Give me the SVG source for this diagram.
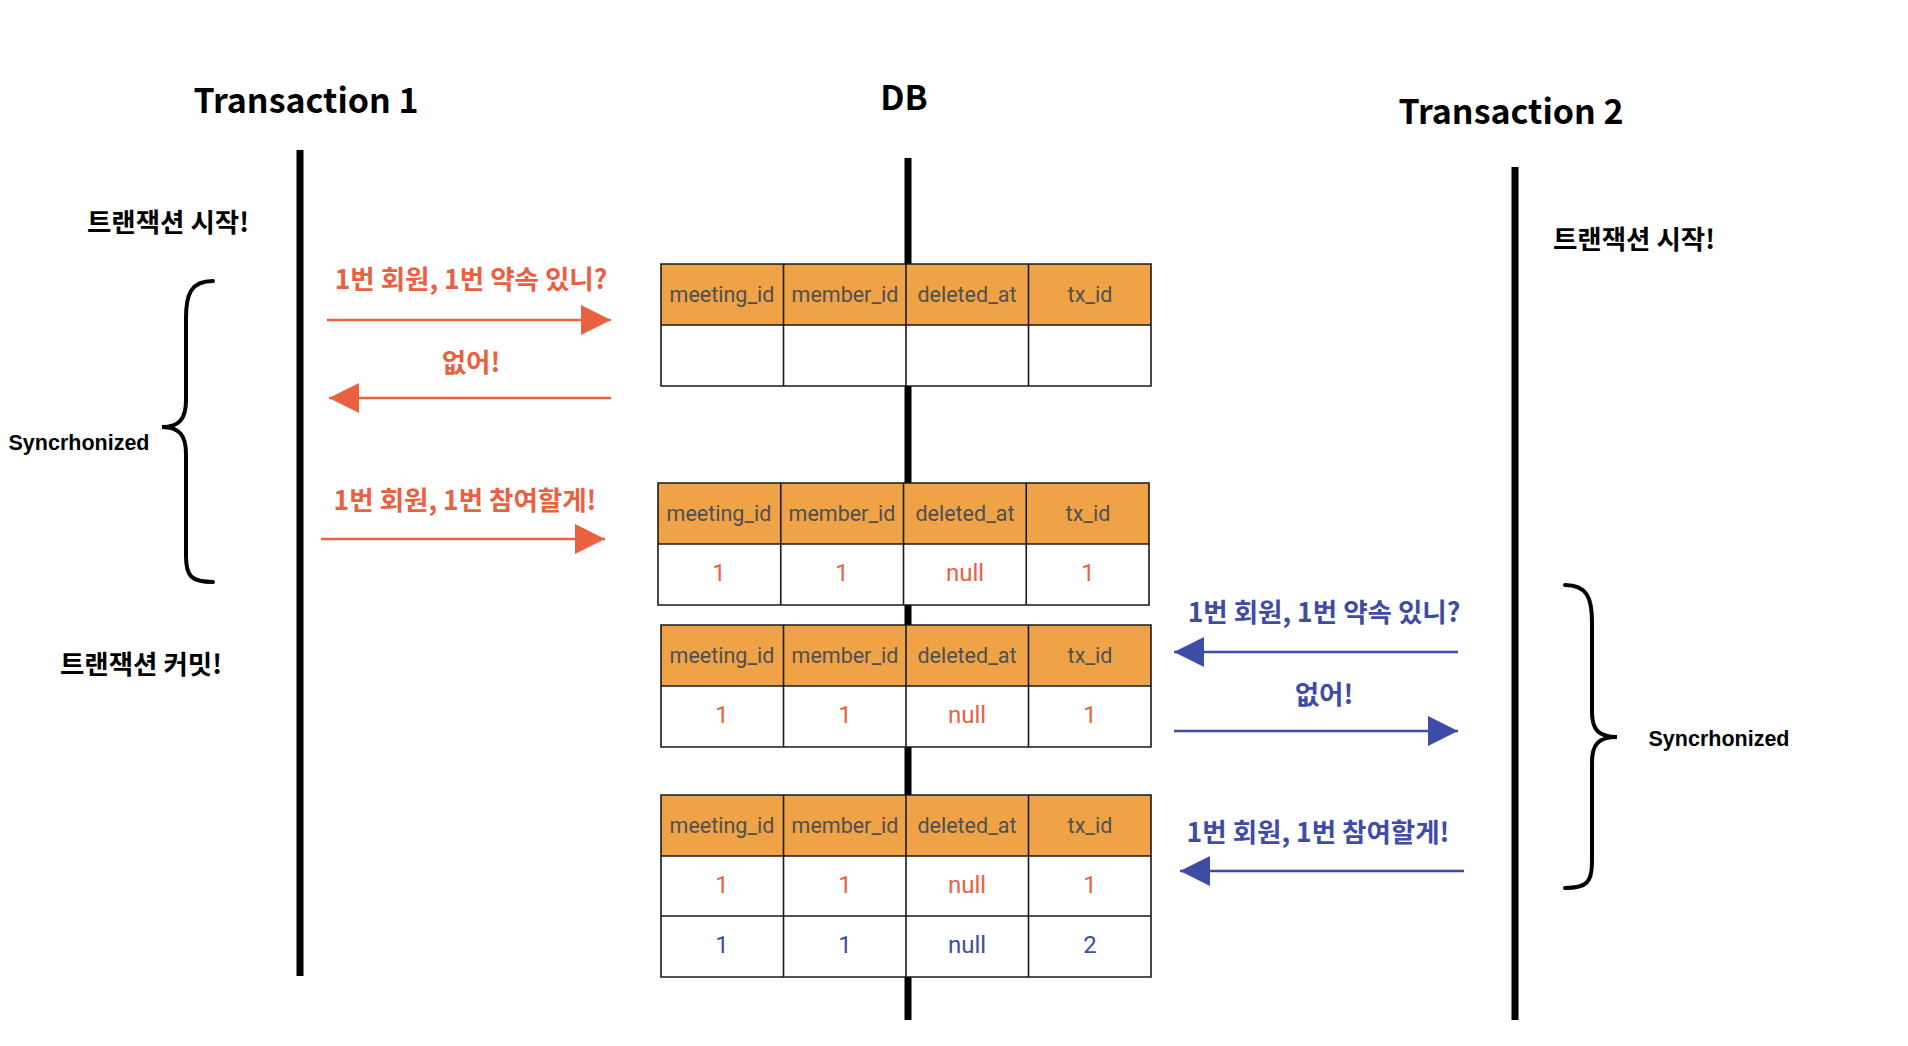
<svg xmlns="http://www.w3.org/2000/svg" width="1908" height="1046" viewBox="0 0 1908 1046">
<style>
.title{font-family:"Noto Sans CJK KR","Noto Sans",sans-serif;font-weight:700;font-size:34px;fill:#000;text-anchor:middle;dominant-baseline:central}
.note{font-family:"Noto Sans CJK KR","Noto Sans",sans-serif;font-weight:700;font-size:26.5px;fill:#000;text-anchor:middle;dominant-baseline:central}
.sync{font-family:"Liberation Sans","Noto Sans",sans-serif;font-weight:700;font-size:21.5px;fill:#000;text-anchor:middle;dominant-baseline:central}
.lblo{font-family:"Noto Sans CJK KR","Noto Sans",sans-serif;font-weight:700;font-size:26.5px;fill:#EA6040;text-anchor:middle;dominant-baseline:central}
.lblb{font-family:"Noto Sans CJK KR","Noto Sans",sans-serif;font-weight:700;font-size:26.5px;fill:#3E4CA6;text-anchor:middle;dominant-baseline:central}
.life{stroke:#000;stroke-width:7;fill:none}
.brace{stroke:#000;stroke-width:4;fill:none;stroke-linecap:round}
.arro{stroke:#EA6040;stroke-width:2.5;fill:none}
.arrb{stroke:#3E4CA6;stroke-width:2.5;fill:none}
.hdr{fill:#EFA346}
.body{fill:#fff}
.grid{fill:none;stroke:#1a1a1a;stroke-width:1.6}
.th{font-family:Roboto,"Liberation Sans",sans-serif;font-size:21.5px;fill:#505050;text-anchor:middle;dominant-baseline:central}
.vo{font-family:Roboto,"Liberation Sans",sans-serif;font-size:24px;fill:#EA6040;text-anchor:middle;dominant-baseline:central}
.vb{font-family:Roboto,"Liberation Sans",sans-serif;font-size:24px;fill:#3E4CA6;text-anchor:middle;dominant-baseline:central}
</style>
<defs>
<marker id="mo" viewBox="0 0 30 30" refX="30" refY="15" markerWidth="30" markerHeight="30" markerUnits="userSpaceOnUse" orient="auto"><path d="M0,0 L30,15 L0,30 z" fill="#EA6040"/></marker>
<marker id="mb" viewBox="0 0 30 30" refX="30" refY="15" markerWidth="30" markerHeight="30" markerUnits="userSpaceOnUse" orient="auto"><path d="M0,0 L30,15 L0,30 z" fill="#3E4CA6"/></marker>
</defs>
<rect width="1908" height="1046" fill="#fff"/>

<g id="lifelines">
<line class="life" x1="300" y1="150" x2="300" y2="976"/>
<line class="life" x1="908" y1="158" x2="908" y2="1020"/>
<line class="life" x1="1515" y1="167" x2="1515" y2="1020"/>
</g>

<g id="tx1">
<text class="title" x="306" y="98.5">Transaction 1</text>
<text class="note" x="168" y="220">트랜잭션 시작!</text>
<text class="note" x="141" y="662">트랜잭션 커밋!</text>
<path class="brace" d="M213 281 C191 281 186 294 186 318 L186 400 C186 418 180 427 162 427 C180 427 186 436 186 454 L186 556 C186 576 191 582 213 582"/>
<text class="sync" x="79" y="443">Syncrhonized</text>
</g>

<g id="db">
<text class="title" x="904" y="95">DB</text>
</g>

<g id="tx2">
<text class="title" x="1511" y="109.5">Transaction 2</text>
<text class="note" x="1634" y="237">트랜잭션 시작!</text>
<path class="brace" d="M1565 585 C1587 585 1592 598 1592 622 L1592 712 C1592 729 1598 737 1617 737 C1598 737 1592 745 1592 762 L1592 862 C1592 882 1587 888 1565 888"/>
<text class="sync" x="1719" y="739">Syncrhonized</text>
</g>

<g id="table-1">
<rect class="hdr" x="661" y="264" width="490" height="61"/>
<rect class="body" x="661" y="325" width="490" height="61"/>
<path class="grid" d="M661 264 H1151 V386 H661 Z M661 325 H1151 M783.5 264 V386 M906 264 V386 M1028.5 264 V386"/>
<text class="th" x="722" y="294.5">meeting_id</text>
<text class="th" x="845" y="294.5">member_id</text>
<text class="th" x="967" y="294.5">deleted_at</text>
<text class="th" x="1090" y="294.5">tx_id</text>
</g>

<g id="table-2">
<rect class="hdr" x="658" y="483" width="491" height="61"/>
<rect class="body" x="658" y="544" width="491" height="61"/>
<path class="grid" d="M658 483 H1149 V605 H658 Z M658 544 H1149 M780.75 483 V605 M903.5 483 V605 M1026.25 483 V605"/>
<text class="th" x="719" y="513.5">meeting_id</text>
<text class="th" x="842" y="513.5">member_id</text>
<text class="th" x="965" y="513.5">deleted_at</text>
<text class="th" x="1088" y="513.5">tx_id</text>
<text class="vo" x="719" y="573">1</text>
<text class="vo" x="842" y="573">1</text>
<text class="vo" x="965" y="573">null</text>
<text class="vo" x="1088" y="573">1</text>
</g>

<g id="table-3">
<rect class="hdr" x="661" y="625" width="490" height="61"/>
<rect class="body" x="661" y="686" width="490" height="61"/>
<path class="grid" d="M661 625 H1151 V747 H661 Z M661 686 H1151 M783.5 625 V747 M906 625 V747 M1028.5 625 V747"/>
<text class="th" x="722" y="655.5">meeting_id</text>
<text class="th" x="845" y="655.5">member_id</text>
<text class="th" x="967" y="655.5">deleted_at</text>
<text class="th" x="1090" y="655.5">tx_id</text>
<text class="vo" x="722" y="715">1</text>
<text class="vo" x="845" y="715">1</text>
<text class="vo" x="967" y="715">null</text>
<text class="vo" x="1090" y="715">1</text>
</g>

<g id="table-4">
<rect class="hdr" x="661" y="795" width="490" height="61"/>
<rect class="body" x="661" y="856" width="490" height="121"/>
<path class="grid" d="M661 795 H1151 V977 H661 Z M661 856 H1151 M661 916 H1151 M783.5 795 V977 M906 795 V977 M1028.5 795 V977"/>
<text class="th" x="722" y="825.5">meeting_id</text>
<text class="th" x="845" y="825.5">member_id</text>
<text class="th" x="967" y="825.5">deleted_at</text>
<text class="th" x="1090" y="825.5">tx_id</text>
<text class="vo" x="722" y="884.5">1</text>
<text class="vo" x="845" y="884.5">1</text>
<text class="vo" x="967" y="884.5">null</text>
<text class="vo" x="1090" y="884.5">1</text>
<text class="vb" x="722" y="945">1</text>
<text class="vb" x="845" y="945">1</text>
<text class="vb" x="967" y="945">null</text>
<text class="vb" x="1090" y="945">2</text>
</g>

<g id="connectors">
<line class="arro" x1="327" y1="320" x2="611" y2="320" marker-end="url(#mo)"/>
<text class="lblo" x="471" y="277">1번 회원, 1번 약속 있니?</text>
<line class="arro" x1="611" y1="398" x2="329" y2="398" marker-end="url(#mo)"/>
<text class="lblo" x="471" y="360">없어!</text>
<line class="arro" x1="321" y1="539" x2="605" y2="539" marker-end="url(#mo)"/>
<text class="lblo" x="465" y="498">1번 회원, 1번 참여할게!</text>
<line class="arrb" x1="1458" y1="652" x2="1174" y2="652" marker-end="url(#mb)"/>
<text class="lblb" x="1324" y="610">1번 회원, 1번 약속 있니?</text>
<line class="arrb" x1="1174" y1="731" x2="1458" y2="731" marker-end="url(#mb)"/>
<text class="lblb" x="1324" y="692">없어!</text>
<line class="arrb" x1="1464" y1="871" x2="1180" y2="871" marker-end="url(#mb)"/>
<text class="lblb" x="1318" y="830">1번 회원, 1번 참여할게!</text>
</g>
</svg>
